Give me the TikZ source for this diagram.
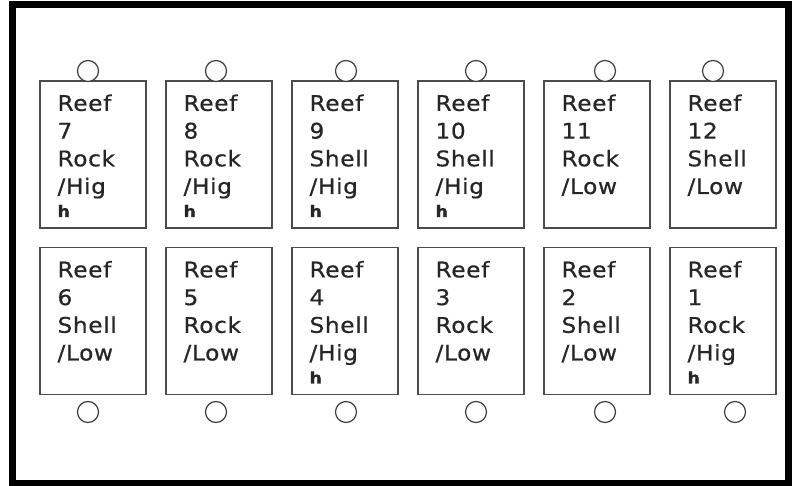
\documentclass[tikz,border=0pt]{standalone}
\usepackage{fontspec}
\newfontfamily\reeffont[FakeStretch=1.08,LetterSpace=3,FakeBold=0.6]{DejaVu Sans}
\tikzset{
	reefbox/.style={draw=black!70, line width=1.3pt, minimum width=106pt, minimum height=147pt, inner sep=0pt},
	reeftext/.style={anchor=north west, inner sep=0pt, align=left, text=black!85, font={\reeffont\fontsize{21.5}{27.7}\selectfont}},
	ring/.style={draw=black!75, line width=1.2pt, fill=white}
}
\newcommand{\smallh}{\\[-4.7pt]{\bfseries\fontsize{16}{16}\selectfont h}}

\begin{document}
\begin{tikzpicture}[x=1pt,y=-1pt]
			\useasboundingbox (0,0) rectangle (797,486);
			\fill[white] (0,0) rectangle (797,486);
			\draw[line width=7pt](12,5) rectangle (788,483);
			\node[reefbox] (r7) at (93,154.5) {};
			\node[reefbox] (r8) at (219,154.5) {};
			\node[reefbox] (r9) at (345,154.5) {};
			\node[reefbox] (r10) at (471,154.5) {};
			\node[reefbox] (r11) at (597,154.5) {};
			\node[reefbox] (r12) at (723,154.5) {};
			\node[reefbox] (r6) at (93,321) {};
			\node[reefbox] (r5) at (219,321) {};
			\node[reefbox] (r4) at (345,321) {};
			\node[reefbox] (r3) at (471,321) {};
			\node[reefbox] (r2) at (597,321) {};
			\node[reefbox] (r1) at (723,321) {};
			\node[reeftext] (t7) at ([shift={(18pt,-14pt)}]r7.north west) {Reef\\7\\Rock\\/Hig\smallh};
			\node[reeftext] (t8) at ([shift={(18pt,-14pt)}]r8.north west) {Reef\\8\\Rock\\/Hig\smallh};
			\node[reeftext] (t9) at ([shift={(18pt,-14pt)}]r9.north west) {Reef\\9\\Shell\\/Hig\smallh};
			\node[reeftext] (t10) at ([shift={(18pt,-14pt)}]r10.north west) {Reef\\10\\Shell\\/Hig\smallh};
			\node[reeftext] (t11) at ([shift={(18pt,-14pt)}]r11.north west) {Reef\\11\\Rock\\/Low};
			\node[reeftext] (t12) at ([shift={(18pt,-14pt)}]r12.north west) {Reef\\12\\Shell\\/Low};
			\node[reeftext] (t6) at ([shift={(18pt,-14pt)}]r6.north west) {Reef\\6\\Shell\\/Low};
			\node[reeftext] (t5) at ([shift={(18pt,-14pt)}]r5.north west) {Reef\\5\\Rock\\/Low};
			\node[reeftext] (t4) at ([shift={(18pt,-14pt)}]r4.north west) {Reef\\4\\Shell\\/Hig\smallh};
			\node[reeftext] (t3) at ([shift={(18pt,-14pt)}]r3.north west) {Reef\\3\\Rock\\/Low};
			\node[reeftext] (t2) at ([shift={(18pt,-14pt)}]r2.north west) {Reef\\2\\Shell\\/Low};
			\node[reeftext] (t1) at ([shift={(18pt,-14pt)}]r1.north west) {Reef\\1\\Rock\\/Hig\smallh};
			\draw[ring](88,71) circle[radius=10.5pt];
			\draw[ring](216,71) circle[radius=10.5pt];
			\draw[ring](346,71) circle[radius=10.5pt];
			\draw[ring](476,71) circle[radius=10.5pt];
			\draw[ring](605,71) circle[radius=10.5pt];
			\draw[ring](713,71) circle[radius=10.5pt];
			\draw[ring](88,412) circle[radius=10.5pt];
			\draw[ring](216,412) circle[radius=10.5pt];
			\draw[ring](346,412) circle[radius=10.5pt];
			\draw[ring](476,412) circle[radius=10.5pt];
			\draw[ring](605,412) circle[radius=10.5pt];
			\draw[ring](735,412) circle[radius=10.5pt];
		\end{tikzpicture}
\end{document}
